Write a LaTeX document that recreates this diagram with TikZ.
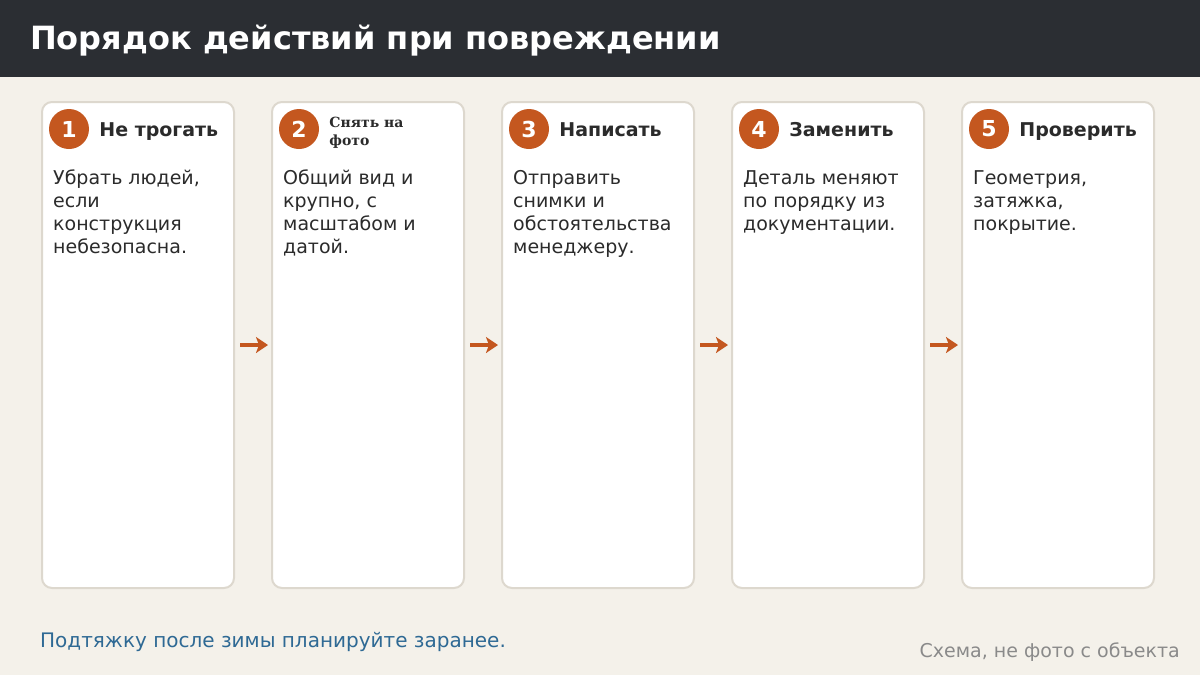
\documentclass[tikz,border=0pt]{standalone}
\usepackage{fontspec}
\setmainfont{DejaVu Sans}
\newfontfamily\serifhead{DejaVu Serif}
\usetikzlibrary{positioning,arrows.meta}
\definecolor{headbg}{HTML}{2B2E33}
\definecolor{pagebg}{HTML}{F4F1EA}
\definecolor{cardline}{HTML}{DDD8CE}
\definecolor{accent}{HTML}{C4571F}
\definecolor{ink}{HTML}{2B2B2B}
\definecolor{notecol}{HTML}{2E6994}
\definecolor{greytext}{HTML}{8A8A8A}
\tikzset{
  card/.style={draw=cardline, line width=2pt, fill=white, rounded corners=10pt,
    minimum width=192pt, minimum height=486pt, inner sep=0pt},
  badge/.style={circle, fill=accent, minimum size=40pt, inner sep=0pt,
    text=white, font=\fontsize{22}{22}\selectfont\bfseries},
  cardtitle/.style={anchor=base west, inner sep=0pt, text=ink, yshift=-7pt,
    font=\fontsize{19}{19}\selectfont\bfseries},
  cardbody/.style={anchor=north west, align=left, inner sep=0pt, text=ink,
    font=\fontsize{19}{23}\selectfont},
  flow/.style={-{Stealth[length=12pt,width=16pt,inset=3pt]}, accent, line width=3.5pt,
    shorten <=5pt, shorten >=3pt}
}
\begin{document}
\begin{tikzpicture}[x=1pt,y=-1pt]
  % page and header
  \fill[pagebg](0,0)rectangle(1200,675);
  \useasboundingbox(0,0)rectangle(1200,675);
  \fill[headbg](0,0)rectangle(1200,77);
  \node[anchor=base west, inner sep=0pt, text=white,
    font=\fontsize{32}{32}\selectfont\bfseries] (heading) at (30,49)
    {Порядок действий при повреждении};
  % cards
  \node[card] (card1) at (138,345) {};
  \node[card, right=36pt of card1] (card2) {};
  \node[card, right=36pt of card2] (card3) {};
  \node[card, right=36pt of card3] (card4) {};
  \node[card, right=36pt of card4] (card5) {};
  % badges and titles
  \node[badge] (badge1) at ([xshift=28pt, yshift=-28pt]card1.north west) {1};
  \node[right=10pt of badge1, cardtitle] (title1) {Не трогать};
  \node[badge] (badge2) at ([xshift=28pt, yshift=-28pt]card2.north west) {2};
  \node[right=10pt of badge2, anchor=west, inner sep=0pt, align=left, text=ink,
    yshift=-3.5pt, font=\fontsize{14}{18}\selectfont\serifhead\bfseries] (title2)
    {Снять на\\фото};
  \node[badge] (badge3) at ([xshift=28pt, yshift=-28pt]card3.north west) {3};
  \node[right=10pt of badge3, cardtitle] (title3) {Написать};
  \node[badge] (badge4) at ([xshift=28pt, yshift=-28pt]card4.north west) {4};
  \node[right=10pt of badge4, cardtitle] (title4) {Заменить};
  \node[badge] (badge5) at ([xshift=28pt, yshift=-28pt]card5.north west) {5};
  \node[right=10pt of badge5, cardtitle] (title5) {Проверить};
  % card texts
  \node[cardbody] (body1) at ([xshift=12pt, yshift=-69pt]card1.north west)
    {Убрать людей,\\если\\конструкция\\небезопасна.};
  \node[cardbody] (body2) at ([xshift=12pt, yshift=-69pt]card2.north west)
    {Общий вид и\\крупно, с\\масштабом и\\датой.};
  \node[cardbody] (body3) at ([xshift=12pt, yshift=-69pt]card3.north west)
    {Отправить\\снимки и\\обстоятельства\\менеджеру.};
  \node[cardbody] (body4) at ([xshift=12pt, yshift=-69pt]card4.north west)
    {Деталь меняют\\по порядку из\\документации.};
  \node[cardbody] (body5) at ([xshift=12pt, yshift=-69pt]card5.north west)
    {Геометрия,\\затяжка,\\покрытие.};
  % arrows
  \draw[flow](card1.east)--(card2.west);
  \draw[flow](card2.east)--(card3.west);
  \draw[flow](card3.east)--(card4.west);
  \draw[flow](card4.east)--(card5.west);
  % footer
  \node[anchor=base west, inner sep=0pt, text=notecol,
    font=\fontsize{20}{20}\selectfont] (note) at (40,647)
    {Подтяжку после зимы планируйте заранее.};
  \node[anchor=base east, inner sep=0pt, text=greytext,
    font=\fontsize{19}{19}\selectfont] (source) at (1180,657)
    {Схема, не фото с объекта};
\end{tikzpicture}
\end{document}
